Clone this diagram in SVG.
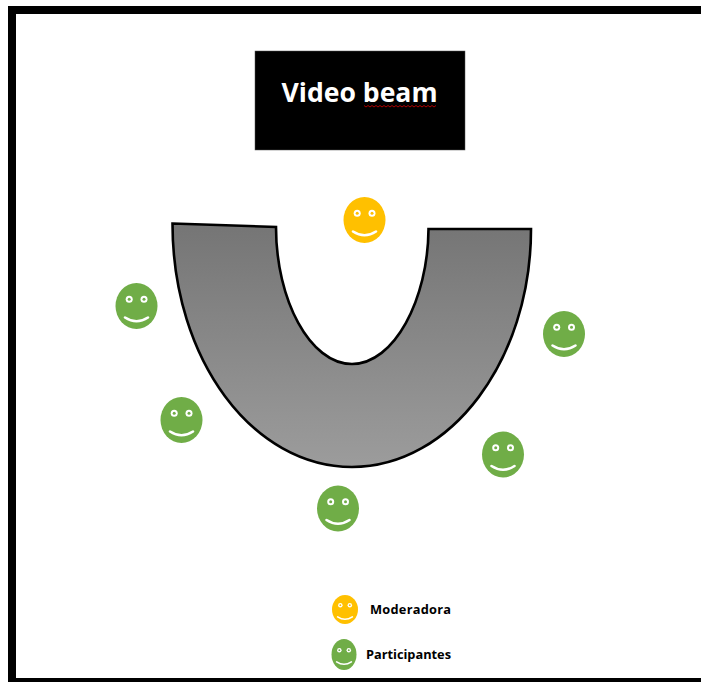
<svg xmlns="http://www.w3.org/2000/svg" xmlns:xlink="http://www.w3.org/1999/xlink" width="701" height="682" viewBox="0 0 701 682">
  <style>
    .label { font-family: "Open Sans", "Noto Sans", sans-serif; font-weight: 700; fill: #000; font-size: 12.8px; }
    .eye { fill: #fff; }
    .mouth { fill: none; stroke: #fff; stroke-width: 2.6; stroke-linecap: round; }
    .mod { fill: #ffc000; }
    .par { fill: #70ad47; }
  </style>
  <defs>
    <linearGradient id="tableFill" x1="0" y1="0" x2="0" y2="1">
      <stop offset="0" stop-color="#757575"/>
      <stop offset="1" stop-color="#9c9c9c"/>
    </linearGradient>
    <g id="face">
      <circle class="eye" cx="-7.300" cy="-6.800" r="3.500"/>
      <circle cx="-7.300" cy="-6.800" r="1.500"/>
      <circle class="eye" cx="7.500" cy="-6.800" r="3.500"/>
      <circle cx="7.500" cy="-6.800" r="1.500"/>
      <path class="mouth" d="M-11.500 11.500 Q0 19 11.500 11.500"/>
    </g>
  </defs>
  <rect width="701" height="682" fill="#fff"/>
  <g id="frame">
    <rect x="8" y="6" width="693" height="8" fill="#000"/>
    <rect x="8" y="6" width="8" height="676" fill="#000"/>
    <rect x="8" y="678" width="693" height="4" fill="#000"/>
  </g>
  <g id="video-beam">
    <rect x="255" y="51" width="210" height="99" fill="#000" stroke="#555" stroke-width="0.5"/>
    <text x="359.500" y="102" text-anchor="middle" font-family="'Open Sans','Noto Sans',sans-serif" font-weight="700" font-size="26.600" fill="#fff">Video beam</text>
    <path d="M364 105.500 l2 1.500 l2 -1.500 l2 1.500 l2 -1.500 l2 1.500 l2 -1.500 l2 1.500 l2 -1.500 l2 1.500 l2 -1.500 l2 1.500 l2 -1.500 l2 1.500 l2 -1.500 l2 1.500 l2 -1.500 l2 1.500 l2 -1.500 l2 1.500 l2 -1.500 l2 1.500 l2 -1.500 l2 1.500 l2 -1.500 l2 1.500 l2 -1.500 l2 1.500 l2 -1.500 l2 1.500 l2 -1.500 l2 1.500 l2 -1.500 l2 1.500 l2 -1.500 l2 1.500 l2 -1.500" fill="none" stroke="#c00000" stroke-width="0.9"/>
  </g>
  <g id="table">
    <path d="M172.500 223.500 L276 227 C276 300 310 364 352 364 C394 364 428 300 428.500 229 L531 229 C531 360 451 467 352 467 C253 467 172.500 360 172.500 223.500 Z" fill="url(#tableFill)" stroke="#000" stroke-width="2.600" stroke-linejoin="miter"/>
  </g>
  <g id="moderator"><ellipse class="mod" cx="364.500" cy="220" rx="21" ry="23"/><use xlink:href="#face" href="#face" x="364.500" y="220" fill="#ffc000"/></g>
  <g id="participant-1"><ellipse class="par" cx="136.500" cy="306" rx="21" ry="23"/><use xlink:href="#face" href="#face" x="136.500" y="306" fill="#70ad47"/></g>
  <g id="participant-2"><ellipse class="par" cx="181.500" cy="420" rx="21" ry="23"/><use xlink:href="#face" href="#face" x="181.500" y="420" fill="#70ad47"/></g>
  <g id="participant-3"><ellipse class="par" cx="338" cy="508.500" rx="21" ry="23"/><use xlink:href="#face" href="#face" x="338" y="508.500" fill="#70ad47"/></g>
  <g id="participant-4"><ellipse class="par" cx="503" cy="454.500" rx="21" ry="23"/><use xlink:href="#face" href="#face" x="503" y="454.500" fill="#70ad47"/></g>
  <g id="participant-5"><ellipse class="par" cx="564" cy="334" rx="21" ry="23"/><use xlink:href="#face" href="#face" x="564" y="334" fill="#70ad47"/></g>
  <g id="legend-moderadora">
    <ellipse class="mod" cx="345" cy="609.500" rx="13" ry="14.500"/>
    <g transform="translate(345 609.500) scale(0.64)"><use xlink:href="#face" href="#face" fill="#ffc000"/></g>
    <text class="label" x="370" y="614" textLength="81">Moderadora</text>
  </g>
  <g id="legend-participantes">
    <ellipse class="par" cx="344" cy="654.500" rx="12.500" ry="15.500"/>
    <g transform="translate(344 654.500) scale(0.64)"><use xlink:href="#face" href="#face" fill="#70ad47"/></g>
    <text class="label" x="366" y="659" textLength="85">Participantes</text>
  </g>
  <g id="connectors"/>
</svg>
